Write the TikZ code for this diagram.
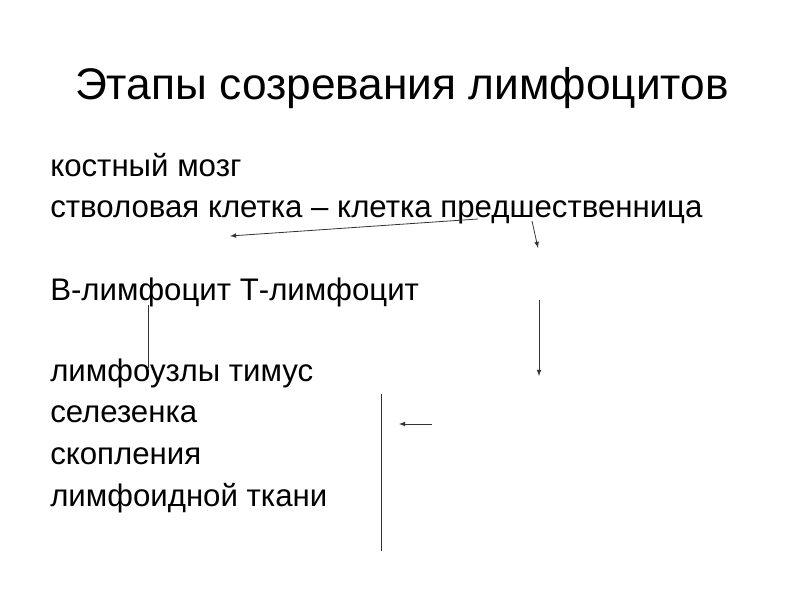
\documentclass[tikz,border=0pt]{standalone}
\usepackage{fontspec}
\setmainfont{Liberation Sans}
\usepackage{xcolor}
\usetikzlibrary{arrows, positioning}

\begin{document}
\begin{tikzpicture}[x=0.75pt, y=-0.75pt,
    line/.style={draw=black!80, line width=0.6pt},
    arr/.style={line, -latex},
    body/.style={anchor=base west, inner sep=0pt, font=\fontsize{23.4}{28}\selectfont}]
    \useasboundingbox[fill=white] (0,0) rectangle (800,599);
    \node[anchor=base, inner sep=0pt, font=\fontsize{33.2}{40}\selectfont] (title) at (402,100) {Этапы созревания лимфоцитов};
    \node[body] (marrow) at (50,177) {костный мозг};
    \node[body] (stem) at (50,218) {стволовая клетка – клетка предшественница};
    \node[body] (lymph) at (50,300) {В-лимфоцит Т-лимфоцит};
    \node[body] (nodes) at (50,381) {лимфоузлы тимус};
    \node[body] (spleen) at (50,422) {селезенка};
    \node[body] (clust) at (50,464) {скопления};
    \node[body] (tissue) at (50,506) {лимфоидной ткани};
    % free arrows
    \coordinate (a1) at (478,219);
    \coordinate (a2) at (230,236);
    \coordinate (b1) at (532,221);
    \coordinate (b2) at (538,248);
    \coordinate (c1) at (148,305);
    \coordinate (c2) at (148,368);
    \coordinate (d1) at (539,300);
    \coordinate (d2) at (539,376);
    \coordinate (e1) at (381,394);
    \coordinate (e2) at (381,551);
    \coordinate (f1) at (432,424);
    \coordinate (f2) at (399,424);
    \draw[arr] (a1) -- (a2);
    \draw[arr] (b1) -- (b2);
    \draw[line] (c1) -- (c2);
    \draw[arr] (d1) -- (d2);
    \draw[line] (e1) -- (e2);
    \draw[arr] (f1) -- (f2);
\end{tikzpicture}
\end{document}
